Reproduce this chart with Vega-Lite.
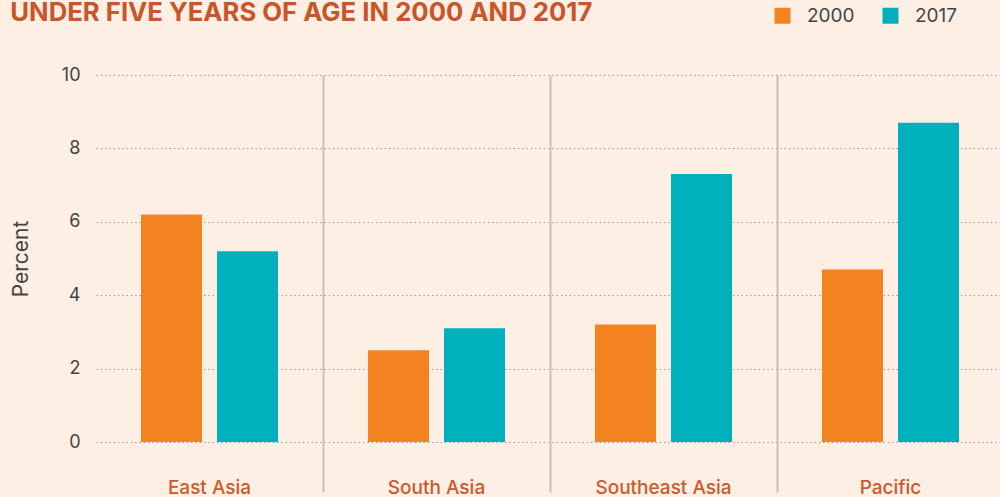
{
  "$schema": "https://vega.github.io/schema/vega-lite/v6.json",
  "autosize": {"type": "none"},
  "padding": {"left": 96, "top": 75, "right": -4, "bottom": 55},
  "width": 908,
  "height": 367,
  "background": "#FDEFE3",
  "title": {
    "text": "UNDER FIVE YEARS OF AGE IN 2000 AND 2017",
    "anchor": "start",
    "frame": "bounds",
    "baseline": "alphabetic",
    "offset": 0,
    "dy": 41,
    "font": "Inter",
    "fontSize": 25.7,
    "fontWeight": "bold",
    "color": "#C9552A"
  },
  "config": {
    "view": {"stroke": null},
    "font": "Inter"
  },
  "data": {
    "values": [
      {"region": "East Asia", "year": "2000", "value": 6.2},
      {"region": "East Asia", "year": "2017", "value": 5.2},
      {"region": "South Asia", "year": "2000", "value": 2.5},
      {"region": "South Asia", "year": "2017", "value": 3.1},
      {"region": "Southeast Asia", "year": "2000", "value": 3.2},
      {"region": "Southeast Asia", "year": "2017", "value": 7.3},
      {"region": "Pacific", "year": "2000", "value": 4.7},
      {"region": "Pacific", "year": "2017", "value": 8.7}
    ]
  },
  "mark": {"type": "bar"},
  "encoding": {
    "x": {
      "field": "region",
      "type": "nominal",
      "sort": ["East Asia", "South Asia", "Southeast Asia", "Pacific"],
      "scale": {"paddingInner": 0, "paddingOuter": 0},
      "axis": {
        "title": null,
        "domain": false,
        "labelAngle": 0,
        "bandPosition": 0,
        "grid": true,
        "gridDash": [],
        "gridWidth": 2,
        "gridColor": {"condition": {"test": "datum.value === 'East Asia'", "value": "transparent"}, "value": "#C9C1B9"},
        "ticks": true,
        "tickSize": 50,
        "tickWidth": 2,
        "tickColor": {"condition": {"test": "datum.value === 'East Asia'", "value": "transparent"}, "value": "#C9C1B9"},
        "labelColor": "#CB5A2E",
        "labelFont": "Inter",
        "labelFontSize": 19,
        "labelFontWeight": 500,
        "labelBaseline": "alphabetic",
        "labelPadding": 1
      }
    },
    "xOffset": {
      "field": "year",
      "type": "nominal",
      "scale": {"paddingInner": 0.197, "paddingOuter": 0.592}
    },
    "y": {
      "field": "value",
      "type": "quantitative",
      "scale": {"domain": [0, 10], "nice": false},
      "axis": {
        "title": "Percent",
        "values": [0, 2, 4, 6, 8, 10],
        "domain": false,
        "ticks": false,
        "grid": true,
        "gridDash": [1.5, 2.8],
        "gridColor": "#A39B93",
        "gridWidth": 1.2,
        "labelPadding": 16,
        "labelFont": "Inter",
        "labelFontSize": 18,
        "labelColor": "#444444",
        "titleFont": "Inter",
        "titleFontSize": 21,
        "titleFontWeight": "normal",
        "titleColor": "#444444",
        "titlePadding": 30
      }
    },
    "color": {
      "field": "year",
      "type": "nominal",
      "scale": {"domain": ["2000", "2017"], "range": ["#F38220", "#00B0BD"]},
      "legend": {
        "title": null,
        "orient": "none",
        "direction": "horizontal",
        "legendX": 677,
        "legendY": -69,
        "padding": 0,
        "symbolType": "square",
        "symbolSize": 256,
        "symbolStrokeWidth": 0,
        "symbolOpacity": 1,
        "labelFont": "Inter",
        "labelFontSize": 19,
        "labelColor": "#444444",
        "labelOffset": 15,
        "columnPadding": 26
      }
    }
  }
}
